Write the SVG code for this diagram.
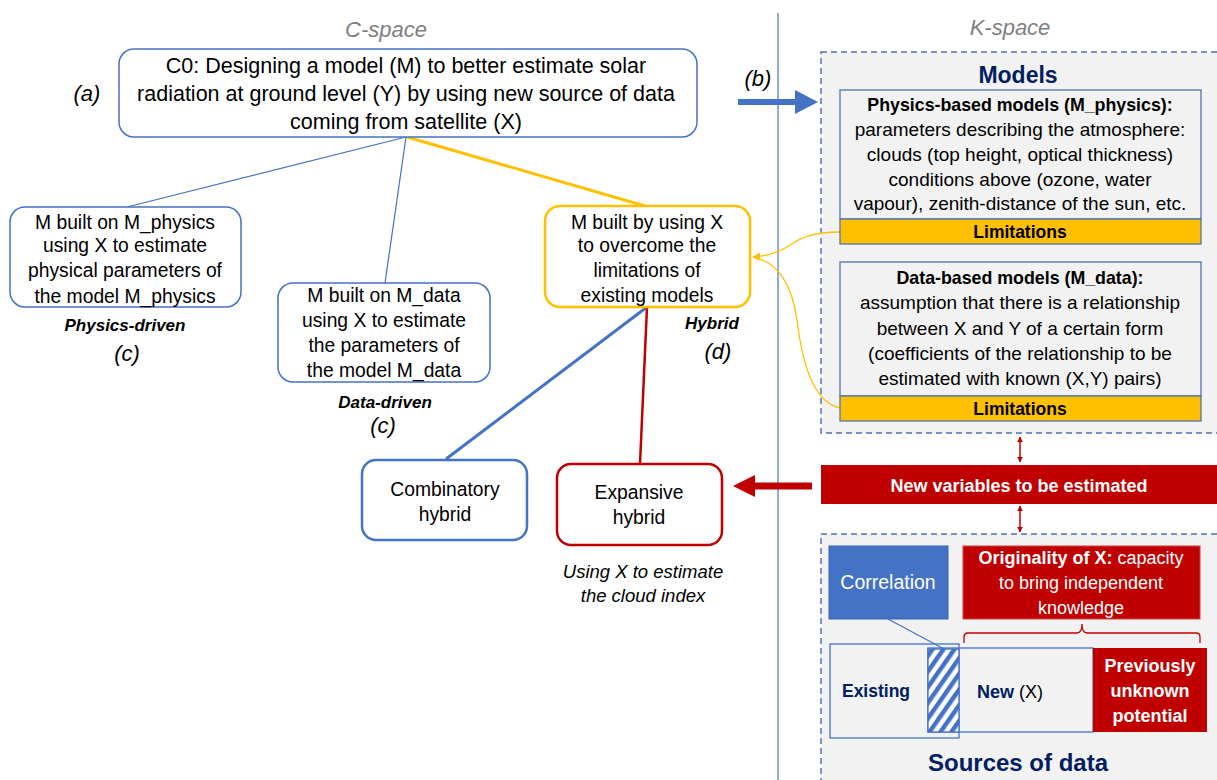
<svg xmlns="http://www.w3.org/2000/svg" width="1217" height="780" viewBox="0 0 1217 780">
<defs>
<style>
text{font-family:"Liberation Sans",Arial,sans-serif;fill:#000;}
.c{text-anchor:middle;}
.node{fill:#fff;stroke:#4472C4;stroke-width:1.5;}
.t18{font-size:19.3px;}
.t20{font-size:21.5px;}
.t17{font-size:19px;}
.tb{font-size:17.8px;font-weight:bold;}
.lbl{font-size:17px;font-weight:bold;font-style:italic;}
.tag{font-size:22px;font-style:italic;}
.space{font-size:22px;font-style:italic;fill:#7f7f7f;}
.navy{fill:#002060;font-weight:bold;}
.white{fill:#fff;}
.kbox{fill:#f2f2f2;stroke:#4f72b0;stroke-width:1.3;}
.lim{fill:#FFC000;stroke:#4f72b0;stroke-width:1.3;}
.dash{fill:#f2f2f2;stroke:#4f72b0;stroke-width:1.5;stroke-dasharray:6 4;}
</style>
<pattern id="hatch" width="9" height="9" patternUnits="userSpaceOnUse" patternTransform="rotate(35)">
<rect width="9" height="9" fill="#fff"/>
<rect width="4.5" height="9" fill="#4472C4"/>
</pattern>
<marker id="redArr" viewBox="0 0 10 10" refX="9" refY="5" markerWidth="6" markerHeight="6" orient="auto-start-reverse" markerUnits="userSpaceOnUse">
<path d="M0,0 L10,5 L0,10 z" fill="#C00000"/>
</marker>
<marker id="yelArr" viewBox="0 0 10 10" refX="9" refY="5" markerWidth="8" markerHeight="8" orient="auto" markerUnits="userSpaceOnUse">
<path d="M0,0 L10,5 L0,10 z" fill="#FFC000"/>
</marker>
</defs>
<rect width="1217" height="780" fill="#fff"/>

<!-- K-space background boxes -->
<g id="k-models">
<rect class="dash" x="821" y="52" width="400" height="381"/>
<text class="c navy" x="1018" y="83" font-size="23">Models</text>
</g>
<g id="k-sources">
<rect class="dash" x="821" y="534" width="400" height="260"/>
<text class="c navy" x="1018" y="771" font-size="24">Sources of data</text>
</g>

<!-- divider -->
<line x1="778" y1="13" x2="778" y2="780" stroke="#4472C4" stroke-width="1.2"/>
<text class="c space" x="386" y="37">C-space</text>
<text class="c space" x="1010" y="35">K-space</text>

<!-- connectors -->
<g id="connectors" fill="none">
<line x1="406" y1="137" x2="127" y2="207" stroke="#4472C4" stroke-width="1.2"/>
<line x1="406" y1="137" x2="385" y2="283" stroke="#4472C4" stroke-width="1.2"/>
<line x1="407" y1="137" x2="645" y2="206" stroke="#FFC000" stroke-width="3"/>
<line x1="647" y1="307" x2="446" y2="459" stroke="#4472C4" stroke-width="3"/>
<line x1="647" y1="307" x2="640" y2="464" stroke="#C00000" stroke-width="2.5"/>
<path d="M840,232 C812,232 800,238 790,245 C780,252 770,256 753,257" stroke="#FFC000" stroke-width="1.3" marker-end="url(#yelArr)"/>
<path d="M840,408 C812,402 802,360 797,320 C792,285 778,262 755,258" stroke="#FFC000" stroke-width="1.3"/>
<!-- (b) arrow -->
<line x1="738" y1="102" x2="797" y2="102" stroke="#4472C4" stroke-width="6"/>
<path d="M795,90 L818,102 L795,114 z" fill="#4472C4"/>
<!-- red arrow to expansive -->
<line x1="812" y1="486" x2="752" y2="486" stroke="#C00000" stroke-width="7"/>
<path d="M755,475 L733,486 L755,497 z" fill="#C00000"/>
<!-- red double arrows -->
<line x1="1020" y1="437" x2="1020" y2="462" stroke="#C00000" stroke-width="1.5" marker-start="url(#redArr)" marker-end="url(#redArr)"/>
<line x1="1020" y1="506" x2="1020" y2="532" stroke="#C00000" stroke-width="1.5" marker-start="url(#redArr)" marker-end="url(#redArr)"/>
<!-- correlation link -->
<line x1="888" y1="619" x2="946" y2="650" stroke="#4472C4" stroke-width="1.2"/>
<!-- bracket -->
<path d="M964,643 L964,637 Q964,633 968,633 L1077,633 Q1082,633 1082,624 Q1082,633 1087,633 L1196,633 Q1200,633 1200,637 L1200,643" stroke="#C00000" stroke-width="1.3"/>
</g>

<!-- C0 -->
<g id="c0">
<rect class="node" x="119" y="49" width="578" height="88" rx="15"/>
<text class="c t20" x="406" y="73">C0: Designing a model (M) to better estimate solar</text>
<text class="c t20" x="406" y="101">radiation at ground level (Y) by using new source of data</text>
<text class="c t20" x="406" y="129">coming from satellite (X)</text>
</g>
<text class="c tag" x="87" y="101">(a)</text>
<text class="c tag" x="758" y="86">(b)</text>

<g id="physics-driven">
<rect class="node" x="10" y="207" width="231" height="100" rx="15"/>
<text class="c t18" x="125" y="229">M built on M_physics</text>
<text class="c t18" x="125" y="252">using X to estimate</text>
<text class="c t18" x="125" y="277">physical parameters of</text>
<text class="c t18" x="125" y="303">the model M_physics</text>
<text class="c lbl" x="125" y="331">Physics-driven</text>
<text class="c tag" x="127" y="361">(c)</text>
</g>

<g id="data-driven">
<rect class="node" x="278" y="283" width="212" height="99" rx="15"/>
<text class="c t18" x="384" y="302">M built on M_data</text>
<text class="c t18" x="384" y="327">using X to estimate</text>
<text class="c t18" x="384" y="352">the parameters of</text>
<text class="c t18" x="384" y="377">the model M_data</text>
<text class="c lbl" x="385" y="408">Data-driven</text>
<text class="c tag" x="383" y="433">(c)</text>
</g>

<g id="hybrid">
<rect x="545" y="206" width="205" height="101" rx="15" fill="#fff" stroke="#FFC000" stroke-width="2.5"/>
<text class="c t18" x="647" y="229">M built by using X</text>
<text class="c t18" x="647" y="252">to overcome the</text>
<text class="c t18" x="647" y="277">limitations of</text>
<text class="c t18" x="647" y="302">existing models</text>
<text class="c lbl" x="712" y="329">Hybrid</text>
<text class="c tag" x="718" y="359">(d)</text>
</g>

<g id="combinatory">
<rect x="362" y="460" width="165" height="80" rx="14" fill="#fff" stroke="#4472C4" stroke-width="2.5"/>
<text class="c t18" x="445" y="496">Combinatory</text>
<text class="c t18" x="445" y="521">hybrid</text>
</g>

<g id="expansive">
<rect x="557" y="464" width="165" height="81" rx="14" fill="#fff" stroke="#C00000" stroke-width="2.5"/>
<text class="c t18" x="639" y="499">Expansive</text>
<text class="c t18" x="639" y="524">hybrid</text>
<text class="c" x="643" y="578" font-size="18.5" font-style="italic">Using X to estimate</text>
<text class="c" x="643" y="602" font-size="18.5" font-style="italic">the cloud index</text>
</g>

<g id="physics-models">
<rect class="kbox" x="840" y="90" width="361" height="129"/>
<rect class="lim" x="840" y="219" width="361" height="25"/>
<text class="c tb" x="1020" y="111">Physics-based models (M_physics):</text>
<text class="c t17" x="1020" y="136">parameters describing the atmosphere:</text>
<text class="c t17" x="1020" y="161">clouds (top height, optical thickness)</text>
<text class="c t17" x="1020" y="186">conditions above (ozone, water</text>
<text class="c t17" x="1020" y="210">vapour), zenith-distance of the sun, etc.</text>
<text class="c" x="1020" y="238" font-size="17.5" font-weight="bold">Limitations</text>
</g>

<g id="data-models">
<rect class="kbox" x="840" y="262" width="361" height="134"/>
<rect class="lim" x="840" y="396" width="361" height="25"/>
<text class="c tb" x="1020" y="284">Data-based models (M_data):</text>
<text class="c t17" x="1020" y="309">assumption that there is a relationship</text>
<text class="c t17" x="1020" y="335">between X and Y of a certain form</text>
<text class="c t17" x="1020" y="360">(coefficients of the relationship to be</text>
<text class="c t17" x="1020" y="385">estimated with known (X,Y) pairs)</text>
<text class="c" x="1020" y="415" font-size="17.5" font-weight="bold">Limitations</text>
</g>

<g id="new-variables">
<rect x="821" y="465" width="400" height="39" fill="#C00000"/>
<text class="c white" x="1019" y="492" font-size="18" font-weight="bold">New variables to be estimated</text>
</g>

<g id="correlation">
<rect x="829" y="546" width="119" height="73" fill="#4472C4" stroke="#3a64b0" stroke-width="1"/>
<text class="c white" x="888" y="589" font-size="19.5">Correlation</text>
</g>

<g id="originality">
<rect x="963" y="546" width="237" height="73" fill="#C00000" stroke="#d04040" stroke-width="1"/>
<text class="c white" x="1081" y="564" font-size="18"><tspan font-weight="bold" fill="#fff">Originality of X:</tspan> capacity</text>
<text class="c white" x="1081" y="589" font-size="18">to bring independent</text>
<text class="c white" x="1081" y="614" font-size="18">knowledge</text>
</g>

<g id="existing">
<rect x="830" y="644" width="129" height="94" fill="none" stroke="#4472C4" stroke-width="1.3"/>
<text class="c navy" x="876" y="697" font-size="17.5">Existing</text>
</g>

<g id="new-x">
<rect x="928" y="648" width="165" height="84" fill="none" stroke="#4472C4" stroke-width="1.3"/>
<rect x="928" y="649" width="31" height="83" fill="url(#hatch)" stroke="#4472C4" stroke-width="1.3"/>
<text x="977" y="698" font-size="18" fill="#002060"><tspan font-weight="bold" fill="#002060">New</tspan> (X)</text>
</g>

<g id="unknown">
<rect x="1093" y="648" width="114" height="84" fill="#C00000"/>
<text class="c white" x="1150" y="672" font-size="18" font-weight="bold">Previously</text>
<text class="c white" x="1150" y="697" font-size="18" font-weight="bold">unknown</text>
<text class="c white" x="1150" y="722" font-size="18" font-weight="bold">potential</text>
</g>
</svg>
